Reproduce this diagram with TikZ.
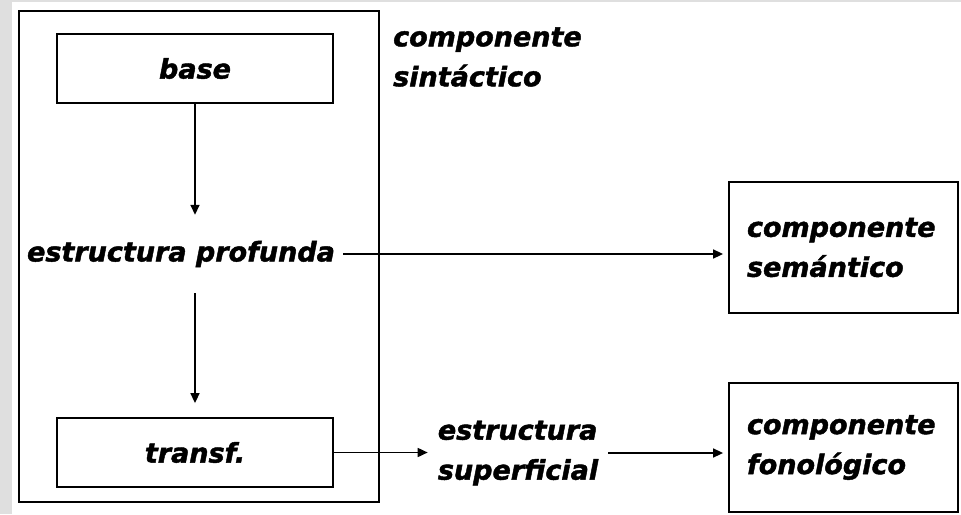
\documentclass[tikz,border=0pt]{standalone}
\usepackage{fontspec}
\setmainfont{DejaVu Sans}[BoldItalicFeatures={FakeBold=1.6}]
\usepackage{tikz}
\usetikzlibrary{positioning,arrows.meta}

\begin{document}
\begin{tikzpicture}[x=1pt,y=-1pt,
  every node/.style={font=\fontsize{27}{40}\selectfont\bfseries\itshape},
  box/.style={rectangle,draw,line width=1.8pt},
  flow/.style={-{Triangle[length=10pt,width=9pt]},line width=1.6pt}]
  \useasboundingbox (0,0) rectangle (961,514);
  \fill[gray!25] (0,0) rectangle (12,514);
  \fill[gray!25] (12,0) rectangle (961,2);
  % componente sintactico
  \node[box,minimum width=360,minimum height=491] (syn) at (199,256.5) {};
  \node[anchor=west,align=left,inner sep=0pt] (synlbl) at (393,57) {componente\\sint\'actico};
  \node[box,minimum width=276,minimum height=69] (base) at (195,68.5) {base};
  \node[minimum height=78,inner xsep=8pt] (prof) at (181,254) {estructura profunda};
  \node[box,minimum width=276,minimum height=69] (transf) at (195,452.5) {transf.};
  % salidas
  \node[align=left,inner xsep=10pt] (sup) at (518,453) {estructura\\superficial};
  \node[box,minimum width=229,minimum height=131,text width=193,align=left] (sem) at (843.5,247.5) {componente\\sem\'antico};
  \node[box,minimum width=229,minimum height=129,text width=193,align=left] (fon) at (843.5,447.5) {componente\\fonol\'ogico};
  \draw[flow] (base.south) -- (base.south |- prof.north);
  \draw[flow,shorten >=14pt] (base.south |- prof.south) -- (transf.north);
  \draw[flow,shorten >=5pt] (prof.east) -- (prof.east -| sem.west);
  \draw[flow] (transf.east) -- (transf.east -| sup.west);
  \draw[flow,shorten >=5pt] (sup.east) -- (sup.east -| fon.west);
\end{tikzpicture}
\end{document}
